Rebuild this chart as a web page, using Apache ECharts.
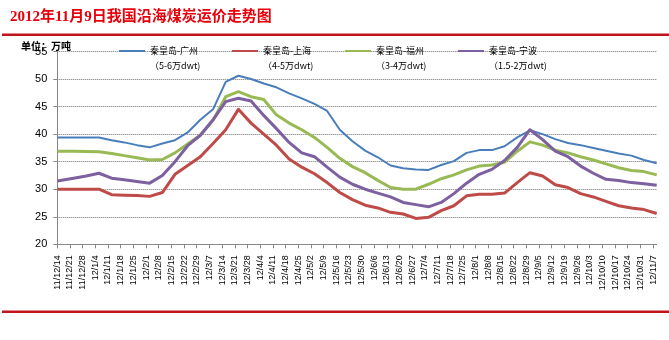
<!DOCTYPE html>
<html><head><meta charset="utf-8">
<script src="https://cdn.jsdelivr.net/npm/echarts@6/dist/echarts.min.js"></script>
<style>html,body{margin:0;padding:0;background:#fff}#c{width:669px;height:340px}</style>
</head><body><div id="c"></div>
<script>
const titleText = '2012年11月9日我国沿海煤炭运价走势图';
const unitText = '单位：万吨';
const tickLabels = ['11/12/14','11/12/21','11/12/28','12/1/4','12/1/11','12/1/18','12/1/25','12/2/1','12/2/8','12/2/15','12/2/22','12/2/29','12/3/7','12/3/14','12/3/21','12/3/28','12/4/4','12/4/11','12/4/18','12/4/25','12/5/2','12/5/9','12/5/16','12/5/23','12/5/30','12/6/6','12/6/13','12/6/20','12/6/27','12/7/4','12/7/11','12/7/18','12/7/25','12/8/1','12/8/8','12/8/15','12/8/22','12/8/29','12/9/5','12/9/12','12/9/19','12/9/26','12/10/3','12/10/10','12/10/17','12/10/24','12/10/31','12/11/7'];
const dataDates = ['2011-12-14','2011-12-23','2011-12-30','2012-01-06','2012-01-13','2012-01-20','2012-01-27','2012-02-03','2012-02-10','2012-02-17','2012-02-24','2012-03-02','2012-03-09','2012-03-16','2012-03-23','2012-03-30','2012-04-06','2012-04-13','2012-04-20','2012-04-27','2012-05-04','2012-05-11','2012-05-18','2012-05-25','2012-06-01','2012-06-08','2012-06-15','2012-06-22','2012-06-29','2012-07-06','2012-07-13','2012-07-20','2012-07-27','2012-08-03','2012-08-10','2012-08-17','2012-08-24','2012-08-31','2012-09-07','2012-09-14','2012-09-21','2012-09-28','2012-10-05','2012-10-12','2012-10-19','2012-10-26','2012-11-02','2012-11-09'];
const seriesNames = ['秦皇岛-广州\n（5-6万dwt)','秦皇岛-上海\n（4-5万dwt)','秦皇岛-福州\n（3-4万dwt)','秦皇岛-宁波\n（1.5-2万dwt)'];
const guangzhou = [39.4,39.4,39.4,39.4,38.9,38.5,38.0,37.6,38.3,38.9,40.3,42.6,44.5,49.5,50.6,50.0,49.2,48.5,47.4,46.5,45.5,44.2,40.8,38.7,37.0,35.8,34.3,33.8,33.6,33.5,34.4,35.1,36.6,37.1,37.1,37.8,39.4,40.7,40.0,39.1,38.4,38.0,37.5,37.0,36.5,36.1,35.3,34.7];
const shanghai = [30.0,30.0,30.0,30.0,29.0,28.9,28.85,28.7,29.4,32.7,34.3,35.9,38.3,40.8,44.5,42.0,40.0,38.0,35.5,34.0,32.8,31.2,29.4,28.1,27.1,26.6,25.8,25.5,24.7,24.9,26.1,27.0,28.8,29.1,29.1,29.3,31.2,33.0,32.4,30.8,30.3,29.2,28.6,27.8,27.0,26.6,26.3,25.6];
const fuzhou = [36.9,36.9,36.85,36.8,36.5,36.1,35.7,35.3,35.4,36.6,38.2,39.8,42.5,46.8,47.7,46.8,46.3,43.5,42.0,40.8,39.4,37.6,35.6,34.1,33.0,31.6,30.3,30.0,30.0,30.9,31.9,32.6,33.5,34.2,34.4,34.9,36.9,38.6,38.0,37.1,36.6,35.9,35.3,34.6,33.9,33.4,33.2,32.6];
const ningbo = [31.5,32.0,32.4,32.9,32.0,31.7,31.4,31.1,32.5,35.0,37.9,39.8,42.6,45.9,46.5,46.0,43.4,41.0,38.5,36.6,35.9,34.0,32.2,30.9,30.0,29.3,28.6,27.6,27.2,26.8,27.6,29.2,31.1,32.7,33.6,35.2,37.6,40.8,39.0,36.9,35.9,34.2,32.9,31.8,31.6,31.2,31.0,30.7];
const colors = ['#4a7ebb','#be4b48','#98b954','#7d60a0'];
const yTicks = [20,25,30,35,40,45,50,55];

const DAY = 86400000;
const base = Date.UTC(2011,11,14);
function dayOfIso(s){const p=s.split('-').map(Number);return Math.round((Date.UTC(p[0],p[1]-1,p[2])-base)/DAY);}
function dayOfLabel(s){const p=s.split('/').map(Number);return Math.round((Date.UTC(2000+p[0],p[1]-1,p[2])-base)/DAY);}
const tickDays = tickLabels.map(dayOfLabel);
const labelByDay = {}; tickDays.forEach((d,i)=>labelByDay[d]=tickLabels[i]);
const xDays = dataDates.map(dayOfIso);
const allValues = [guangzhou, shanghai, fuzhou, ningbo];

const chart = echarts.init(document.getElementById('c'), null, {renderer:'canvas'});
chart.setOption({
  animation:false,
  backgroundColor:'#fff',
  title:{text:titleText,left:10,top:10,padding:0,textStyle:{fontSize:15,fontWeight:'bold',color:'#e8000b',fontFamily:'"Liberation Serif","Noto Sans CJK SC",serif'}},
  graphic:[
    {type:'rect',shape:{x:2,y:33.5,width:667,height:2.5},style:{fill:'#c1141b'},silent:true},
    {type:'rect',shape:{x:2,y:310.5,width:667,height:2.5},style:{fill:'#c1141b'},silent:true},
    {type:'text',left:21,top:41,style:{text:unitText,font:'bold 10px "Noto Sans CJK SC"',fill:'#000'},z:10}
  ],
  legend:{
    left:119, top:28.5, padding:0, itemGap:0, itemWidth:26, itemHeight:2,
    icon:'rect',
    data:seriesNames,
    formatter: n => '\u3000\n' + n,
    textStyle:{fontSize:9,lineHeight:15,width:82,color:'#000',fontFamily:'"Noto Sans CJK SC"'}
  },
  grid:{left:57.3,right:12.3,top:51.5,bottom:95.7,containLabel:false},
  xAxis:{
    type:'value', min:0, max:xDays[xDays.length-1],
    axisLine:{lineStyle:{color:'#868686',width:1}},
    axisTick:{show:true,customValues:tickDays,length:4,lineStyle:{color:'#868686'}},
    axisLabel:{customValues:tickDays,rotate:90,margin:11,fontSize:9,color:'#000',fontFamily:'"Liberation Sans",Arial',
      formatter:v=>labelByDay[Math.round(v)]||''},
    splitLine:{show:false}
  },
  yAxis:{
    type:'value', min:yTicks[0], max:yTicks[yTicks.length-1], interval:5,
    axisLine:{show:true,lineStyle:{color:'#868686',width:1}},
    axisTick:{show:true,length:4,lineStyle:{color:'#868686'}},
    axisLabel:{fontSize:11,color:'#000',margin:10,fontFamily:'"Liberation Sans",Arial'},
    splitLine:{show:true,lineStyle:{type:'dotted',color:'#707070',width:1}}
  },
  series: seriesNames.map((n,i)=>({
    name:n, type:'line', symbol:'none', showSymbol:false,
    data: xDays.map((d,j)=>[d, allValues[i][j]]),
    lineStyle:{color:colors[i],width:i===0?2:3,join:'round'},
    itemStyle:{color:colors[i]},
    z:2+i
  }))
});
</script></body></html>
